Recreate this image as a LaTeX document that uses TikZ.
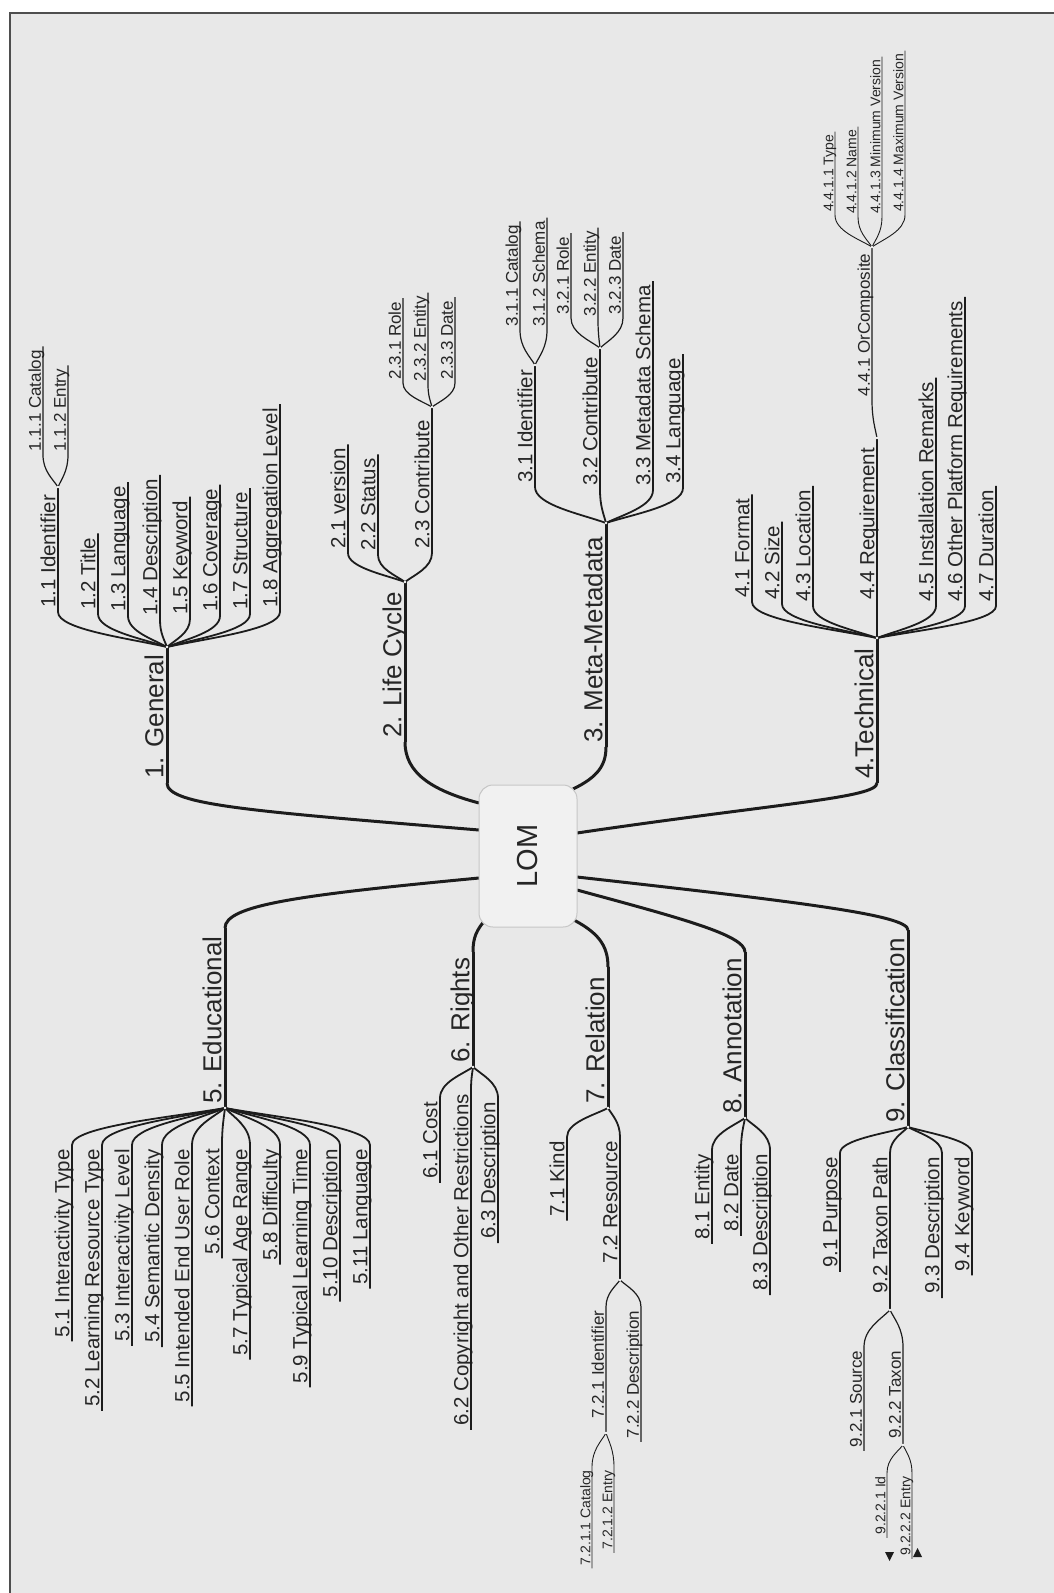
\documentclass[tikz,border=0pt]{standalone}
\usepackage{fontspec}
\setmainfont{Liberation Sans}
\usetikzlibrary{calc,backgrounds}

\definecolor{bgc}{HTML}{E8E8E8}
\definecolor{ink}{HTML}{1C1C1C}
\definecolor{txt}{HTML}{262626}
\definecolor{framec}{HTML}{4E4E4E}
\definecolor{boxfill}{HTML}{F1F1F1}
\definecolor{boxline}{HTML}{C6C6C6}

\tikzset{
  lbl/.style={rotate=90, text=txt, text depth=0pt},
  l1/.style={lbl, font=\fontsize{26pt}{30pt}\selectfont, inner xsep=4pt, inner ysep=3.5pt},
  l2/.style={lbl, font=\fontsize{20.5pt}{24pt}\selectfont, inner xsep=4pt, inner ysep=2.5pt},
  l3/.style={lbl, font=\fontsize{17pt}{20pt}\selectfont, inner xsep=3.5pt, inner ysep=2pt},
  l4/.style={lbl, font=\fontsize{14pt}{16pt}\selectfont, inner xsep=3pt, inner ysep=1.5pt},
  w1/.style={draw=ink, line width=3pt},
  w2/.style={draw=ink, line width=1.8pt},
  w3/.style={draw=ink, line width=1.2pt},
  w4/.style={draw=ink, line width=0.9pt},
  % branch curve: leaves the junction at a shallow angle, ends vertical at the label
  fan/.style={to path={let \p1=(\tikztostart), \p2=(\tikztotarget) in
    .. controls ({\x1+0.35*((\x2)-(\x1))},{\y1+0.25*((\y2)-(\y1))})
       and (\x2,{\y2+0.5*((\y1)-(\y2))}) .. (\tikztotarget)}},
}

% upward label: #1 name, #2 level, #3 junction, #4 x, #5 y, #6 text
\newcommand\uleaf[6]{%
  \node[l#2, anchor=south west] (#1) at (#4,#5) {#6};
  \draw[w#2] (#3) to[fan] (#1.south west) -- (#1.south east);}
% downward label
\newcommand\dleaf[6]{%
  \node[l#2, anchor=south east] (#1) at (#4,#5) {#6};
  \draw[w#2] (#3) to[fan] (#1.south east) -- (#1.south west);}
% labels that carry a further junction (#7)
\newcommand\uparent[7]{%
  \node[l#2, anchor=south west] (#1) at (#4,#5) {#6};
  \draw[w#2] (#3) to[fan] (#1.south west) -- (#7);}
\newcommand\dparent[7]{%
  \node[l#2, anchor=south east] (#1) at (#4,#5) {#6};
  \draw[w#2] (#3) to[fan] (#1.south east) -- (#7);}

\begin{document}
\begin{tikzpicture}[x=1pt,y=-1pt]
\useasboundingbox (0,0) rectangle (1054,1593);

% central topic
\node[rotate=90, rounded corners=14pt, minimum width=142pt, minimum height=98pt,
      fill=boxfill, draw=boxline, line width=1pt, text=txt,
      font=\fontsize{29pt}{32pt}\selectfont] (lom) at (528,856) {LOM};

% junctions
\coordinate (J1) at (167,647);  \coordinate (J11) at (58,487);
\coordinate (J2) at (405,582);  \coordinate (J23) at (432,407);
\coordinate (J3) at (606,523);  \coordinate (J31) at (535,365);  \coordinate (J32) at (600,348);
\coordinate (J4) at (877,638);  \coordinate (J44) at (877,438);  \coordinate (J441) at (872,247);
\coordinate (J5) at (225,1108);
\coordinate (J6) at (473,1067);
\coordinate (J7) at (608,1108); \coordinate (J72) at (620,1280); \coordinate (J721) at (606,1433);
\coordinate (J8) at (745,1118);
\coordinate (J9) at (908,1127); \coordinate (J92) at (890,1310); \coordinate (J922) at (903,1445);

% stem ends next to the central topic (lower half)
\coordinate (T5) at (225,928);
\coordinate (T6) at (473,952);
\coordinate (T7) at (608,967);
\coordinate (T8) at (745,952);
\coordinate (T9) at (908,930);

% main topics
\node[l1, anchor=south west] (b1) at (167,783) {1. General};
\node[l1, anchor=south west] (b2) at (405,742) {2. Life Cycle};
\node[l1, anchor=south west] (b3) at (606,747) {3. Meta-Metadata};
\node[l1, anchor=south west] (b4) at (877,783) {4.Technical};
\node[l1, anchor=south west] (b5) at (J5) {5. Educational};
\node[l1, anchor=south west] (b6) at (J6) {6. Rights};
\node[l1, anchor=south west] (b7) at (J7) {7. Relation};
\node[l1, anchor=south west] (b8) at (J8) {8. Annotation};
\node[l1, anchor=south west] (b9) at (J9) {9. Classification};

\draw[w1] (b1.south west) -- (J1);
\draw[w1] (b2.south west) -- (J2);
\draw[w1] (b3.south west) -- (J3);
\draw[w1] (b4.south west) -- (J4);
\draw[w1] (T5) -- (b5.south west);
\draw[w1] (T6) -- (b6.south west);
\draw[w1] (T7) -- (b7.south west);
\draw[w1] (T8) -- (b8.south west);
\draw[w1] (T9) -- (b9.south west);

\begin{scope}[on background layer]
  \fill[white] (0,0) rectangle (1054,1593);
  \fill[bgc] (10,13) rectangle (1054,1593);
  \draw[framec, line width=2.6pt] (10,1593) -- (10,13) -- (1054,13);
  % connections from the central topic
  \draw[w1] ($(lom.center)+(-49,-26)$) .. controls (250,811) and (167,805) .. (b1.south west);
  \draw[w1] ($(lom.center)+(-49,-53)$) .. controls (430,790) and (405,772) .. (b2.south west);
  \draw[w1] ($(lom.center)+(45,-67)$) .. controls (598,777) and (606,765) .. (b3.south west);
  \draw[w1] ($(lom.center)+(49,-23)$) .. controls (780,803) and (877,798) .. (b4.south west);
  \draw[w1] ($(lom.center)+(-49,22)$) .. controls (300,895) and (225,905) .. (T5);
  \draw[w1] ($(lom.center)+(-41,62)$) .. controls (476,930) and (473,938) .. (T6);
  \draw[w1] ($(lom.center)+(42,62)$) .. controls (598,932) and (608,945) .. (T7);
  \draw[w1] ($(lom.center)+(49,34)$) .. controls (680,918) and (745,935) .. (T8);
  \draw[w1] ($(lom.center)+(49,21)$) .. controls (800,902) and (908,915) .. (T9);
\end{scope}

% 1. General
\uparent{g11}{2}{J1}{58}{612}{1.1 Identifier}{J11}
\uleaf{g12}{2}{J1}{98}{614}{1.2 Title}
\uleaf{g13}{2}{J1}{128}{616}{1.3 Language}
\uleaf{g14}{2}{J1}{160}{620}{1.4 Description}
\uleaf{g15}{2}{J1}{190}{619}{1.5 Keyword}
\uleaf{g16}{2}{J1}{220}{616}{1.6 Coverage}
\uleaf{g17}{2}{J1}{250}{614}{1.7 Structure}
\uleaf{g18}{2}{J1}{280}{612}{1.8 Aggregation Level}
\uleaf{g111}{3}{J11}{43}{455}{1.1.1 Catalog}
\uleaf{g112}{3}{J11}{68}{455}{1.1.2 Entry}

% 2. Life Cycle
\uleaf{c21}{2}{J2}{348}{553}{2.1 version}
\uleaf{c22}{2}{J2}{378}{555}{2.2 Status}
\uparent{c23}{2}{J2}{432}{553}{2.3 Contribute}{J23}
\uleaf{c231}{3}{J23}{403}{383}{2.3.1 Role}
\uleaf{c232}{3}{J23}{428}{385}{2.3.2 Entity}
\uleaf{c233}{3}{J23}{455}{383}{2.3.3 Date}

% 3. Meta-Metadata
\uparent{m31}{2}{J3}{535}{487}{3.1 Identifier}{J31}
\uparent{m32}{2}{J3}{600}{490}{3.2 Contribute}{J32}
\uleaf{m33}{2}{J3}{653}{490}{3.3 Metadata Schema}
\uleaf{m34}{2}{J3}{683}{488}{3.4 Language}
\uleaf{m311}{3}{J31}{520}{330}{3.1.1 Catalog}
\uleaf{m312}{3}{J31}{547}{330}{3.1.2 Schema}
\uleaf{m321}{3}{J32}{571}{318}{3.2.1 Role}
\uleaf{m322}{3}{J32}{598}{320}{3.2.2 Entity}
\uleaf{m323}{3}{J32}{623}{318}{3.2.3 Date}

% 4. Technical
\uleaf{t41}{2}{J4}{752}{602}{4.1 Format}
\uleaf{t42}{2}{J4}{782}{604}{4.2 Size}
\uleaf{t43}{2}{J4}{813}{606}{4.3 Location}
\uparent{t44}{2}{J4}{877}{604}{4.4 Requirement}{J44}
\uleaf{t45}{2}{J4}{936}{606}{4.5 Installation Remarks}
\uleaf{t46}{2}{J4}{965}{606}{4.6 Other Platform Requirements}
\uleaf{t47}{2}{J4}{996}{606}{4.7 Duration}
\uparent{t441}{3}{J44}{872}{400}{4.4.1 OrComposite}{J441}
\uleaf{t4411}{4}{J441}{835}{215}{4.4.1.1 Type}
\uleaf{t4412}{4}{J441}{858}{217}{4.4.1.2 Name}
\uleaf{t4413}{4}{J441}{882}{217}{4.4.1.3 Minimum Version}
\uleaf{t4414}{4}{J441}{905}{215}{4.4.1.4 Maximum Version}

% 5. Educational
\dleaf{e51}{2}{J5}{72}{1145}{5.1 Interactivity Type}
\dleaf{e52}{2}{J5}{102}{1145}{5.2 Learning Resource Type}
\dleaf{e53}{2}{J5}{132}{1145}{5.3 Interactivity Level}
\dleaf{e54}{2}{J5}{162}{1145}{5.4 Semantic Density}
\dleaf{e55}{2}{J5}{192}{1145}{5.5 Intended End User Role}
\dleaf{e56}{2}{J5}{222}{1145}{5.6 Context}
\dleaf{e57}{2}{J5}{250}{1145}{5.7 Typical Age Range}
\dleaf{e58}{2}{J5}{280}{1145}{5.8 Difficulty}
\dleaf{e59}{2}{J5}{310}{1145}{5.9 Typical Learning Time}
\dleaf{e510}{2}{J5}{340}{1145}{5.10 Description}
\dleaf{e511}{2}{J5}{370}{1145}{5.11 Language}

% 6. Rights
\dleaf{r61}{2}{J6}{440}{1098}{6.1 Cost}
\dleaf{r62}{2}{J6}{471}{1090}{6.2 Copyright and Other Restrictions}
\dleaf{r63}{2}{J6}{498}{1098}{6.3 Description}

% 7. Relation
\dleaf{rel71}{2}{J7}{567}{1137}{7.1 Kind}
\dparent{rel72}{2}{J7}{620}{1137}{7.2 Resource}{J72}
\dparent{rel721}{3}{J72}{606}{1307}{7.2.1 Identifier}{J721}
\dleaf{rel722}{3}{J72}{641}{1307}{7.2.2 Description}
\dleaf{rel7211}{4}{J721}{592}{1467}{7.2.1.1 Catalog}
\dleaf{rel7212}{4}{J721}{614}{1467}{7.2.1.2 Entry}

% 8. Annotation
\dleaf{a81}{2}{J8}{712}{1150}{8.1 Entity}
\dleaf{a82}{2}{J8}{741}{1150}{8.2 Date}
\dleaf{a83}{2}{J8}{770}{1150}{8.3 Description}

% 9. Classification
\dleaf{k91}{2}{J9}{840}{1153}{9.1 Purpose}
\dparent{k92}{2}{J9}{890}{1153}{9.2 Taxon Path}{J92}
\dleaf{k93}{2}{J9}{942}{1153}{9.3 Description}
\dleaf{k94}{2}{J9}{972}{1153}{9.4 Keyword}
\dleaf{k921}{3}{J92}{864}{1347}{9.2.1 Source}
\dparent{k922}{3}{J92}{903}{1347}{9.2.2 Taxon}{J922}
\dleaf{k9221}{4}{J922}{887}{1473}{9.2.2.1 Id}
\dleaf{k9222}{4}{J922}{912}{1473}{9.2.2.2 Entry}

% small markers at the ends of 9.2.2.x
\fill[ink] (885,1552) -- (894,1552) -- (889.5,1561) -- cycle;
\fill[ink] (913,1557) -- (922,1557) -- (917.5,1548) -- cycle;

% junction dots
\foreach \j in {J1,J11,J2,J23,J3,J31,J32,J4,J44,J441,J5,J6,J7,J72,J721,J8,J9,J92,J922}
  \fill[white] (\j) circle[radius=1.4pt];
\end{tikzpicture}
\end{document}
